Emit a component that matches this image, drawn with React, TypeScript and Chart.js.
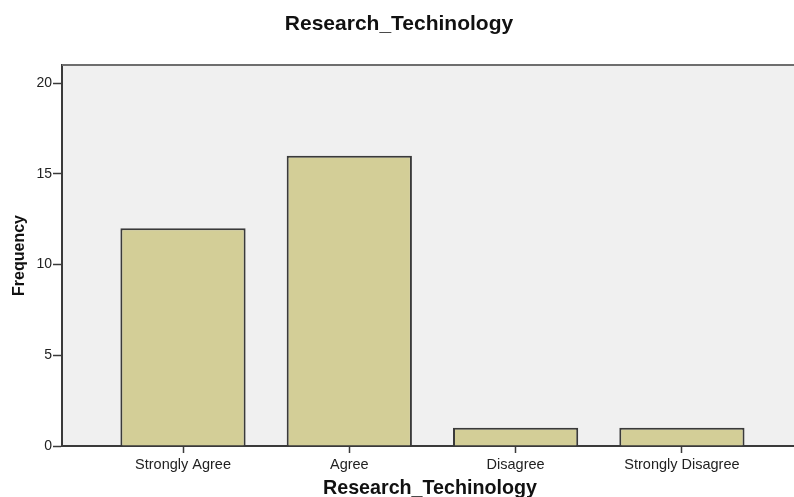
import React, { useEffect, useRef } from "react";
import { Chart, registerables } from "chart.js";

Chart.register(...registerables);

const chartTitle = "Research_Techinology";
const xAxisTitle = "Research_Techinology";
const yAxisTitle = "Frequency";
const categories = ["Strongly Agree", "Agree", "Disagree", "Strongly Disagree"];
const frequencies = [12, 16, 1, 1];
const yTickValues = [0, 5, 10, 15, 20];
const yMax = 21;
const xMin = -0.7276;
const xMax = 3.698;

const CANVAS_W = 798;
const CANVAS_H = 510;

const plotFrame = {
  id: "plotFrame",
  beforeDraw(chart: any) {
    const { ctx, chartArea: a } = chart;
    ctx.save();
    ctx.fillStyle = "#f0f0f0";
    ctx.fillRect(a.left, a.top, a.right - a.left, a.bottom - a.top);
    ctx.restore();
  },
  afterDraw(chart: any) {
    const { ctx, chartArea: a } = chart;
    ctx.save();
    ctx.strokeStyle = "#6e6e6e";
    ctx.lineWidth = 2;
    ctx.beginPath();
    ctx.moveTo(a.left, a.top);
    ctx.lineTo(a.right, a.top);
    ctx.stroke();
    ctx.restore();
  },
};

export default function App() {
  const canvasRef = useRef<HTMLCanvasElement | null>(null);

  useEffect(() => {
    if (!canvasRef.current) return;
    const chart = new Chart(canvasRef.current, {
      type: "bar",
      data: {
        datasets: [
          {
            label: yAxisTitle,
            data: frequencies.map((v, i) => ({ x: i, y: v })),
            backgroundColor: "#d3ce97",
            borderColor: "#3a3a3a",
            borderWidth: 2,
            barPercentage: 0.753,
            categoryPercentage: 1,
          },
        ],
      },
      options: {
        animation: false,
        responsive: false,
        layout: { padding: 0 },
        plugins: {
          legend: { display: false },
          tooltip: { enabled: false },
          title: {
            display: true,
            text: chartTitle,
            color: "#111",
            font: { family: "'Liberation Sans', Arial, sans-serif", size: 21, weight: "bold", lineHeight: 1.2 },
            padding: { top: 12, bottom: 27.8 },
          },
        },
        scales: {
          x: {
            type: "linear",
            min: xMin,
            max: xMax,
            offset: false,
            z: 1,
            afterFit(scale: any) {
              scale.height = CANVAS_H - 446;
            },
            afterBuildTicks(scale: any) {
              scale.ticks = categories.map((_, i) => ({ value: i }));
            },
            grid: {
              display: true,
              offset: false,
              drawOnChartArea: false,
              drawTicks: true,
              tickLength: 7,
              tickWidth: 1.5,
              tickColor: "#3a3a3a",
            },
            border: { display: true, color: "#3a3a3a", width: 2 },
            ticks: {
              autoSkip: false,
              maxRotation: 0,
              padding: 3,
              color: "#222",
              font: { family: "'Liberation Sans', Arial, sans-serif", size: 14.5 },
              callback: (v: any) => categories[Math.round(Number(v))] ?? "",
            },
            title: {
              display: true,
              text: xAxisTitle,
              color: "#111",
              font: { family: "'Liberation Sans', Arial, sans-serif", size: 19.7, weight: "bold", lineHeight: 1.2 },
              padding: { top: 0, bottom: 9.2 },
            },
          },
          y: {
            min: 0,
            max: yMax,
            z: 1,
            afterFit(scale: any) {
              scale.width = 62;
            },
            afterBuildTicks(scale: any) {
              scale.ticks = yTickValues.map((v) => ({ value: v }));
            },
            grid: {
              display: true,
              drawOnChartArea: false,
              drawTicks: true,
              tickLength: 9,
              tickWidth: 1.5,
              tickColor: "#3a3a3a",
            },
            border: { display: true, color: "#3a3a3a", width: 2 },
            ticks: {
              padding: 1,
              color: "#222",
              font: { family: "'Liberation Sans', Arial, sans-serif", size: 14 },
            },
            title: {
              display: true,
              text: yAxisTitle,
              color: "#111",
              font: { family: "'Liberation Sans', Arial, sans-serif", size: 16, weight: "bold", lineHeight: 1.2 },
              padding: { top: 10.4, bottom: 0 },
            },
          },
        },
      },
      plugins: [plotFrame],
    } as any);
    return () => chart.destroy();
  }, []);

  return (
    <div
      style={{
        position: "absolute",
        left: 0,
        top: 0,
        width: 794,
        height: 497,
        overflow: "hidden",
        background: "#fff",
      }}
    >
      <canvas
        ref={canvasRef}
        width={CANVAS_W}
        height={CANVAS_H}
        style={{ width: CANVAS_W, height: CANVAS_H, display: "block" }}
      />
    </div>
  );
}
